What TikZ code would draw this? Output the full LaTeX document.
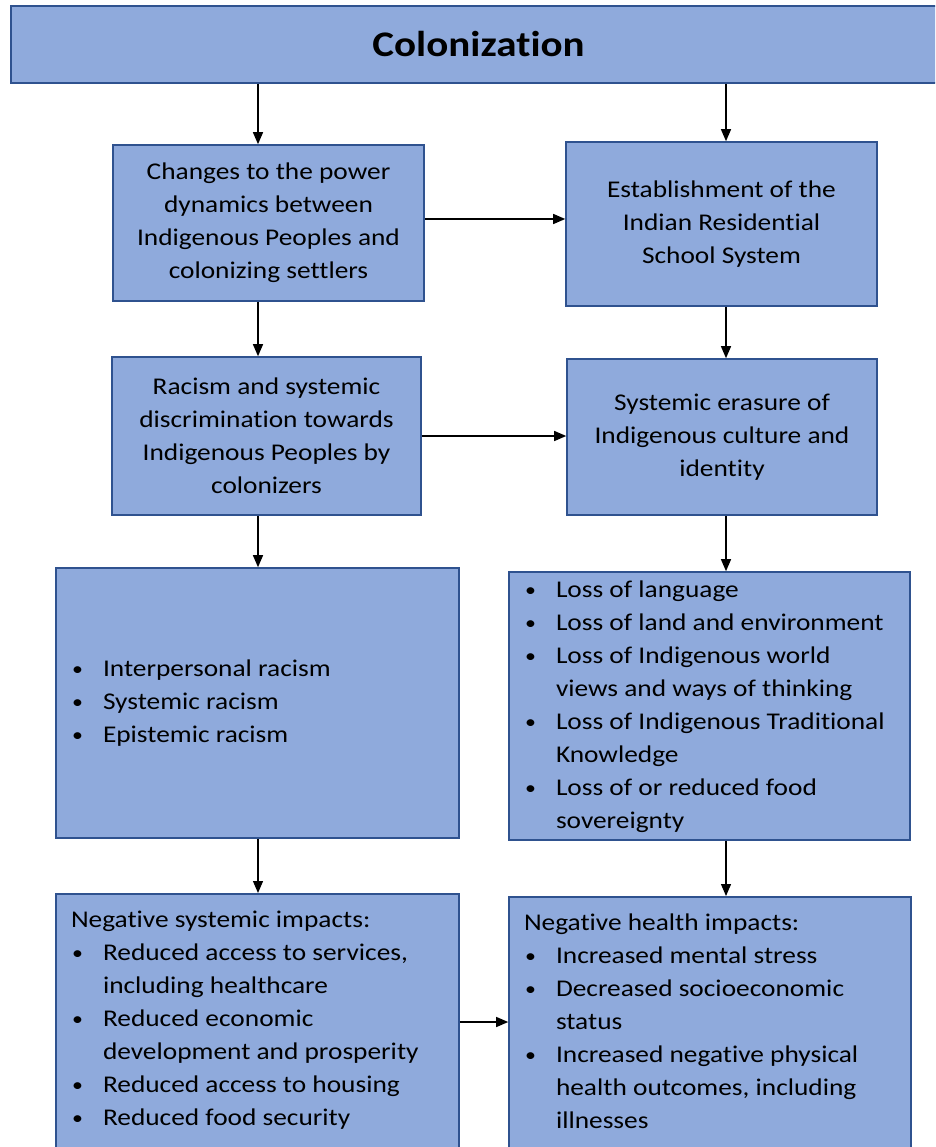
\documentclass[tikz,border=0pt]{standalone}
\usepackage{fontspec}
\setmainfont{Carlito}[FakeStretch=1.14,Ligatures=NoCommon]
\usetikzlibrary{arrows.meta}
\definecolor{boxfill}{HTML}{8FAADC}
\definecolor{boxline}{HTML}{2F528F}
\begin{document}
\begin{tikzpicture}[x=1pt,y=-1pt,
  box/.style={draw=boxline,line width=1.6pt,fill=boxfill,inner sep=0pt,
    align=center,font=\fontsize{24}{33}\selectfont},
  arr/.style={-{Triangle[length=12pt,width=10pt]},line width=1.3pt}]
   \newcommand{\bul}{\hspace*{1pt}\raisebox{1pt}{\scalebox{0.8}{\textbullet}}}
  \useasboundingbox (0,0) rectangle (935,1147);
  \clip (0,0) rectangle (935,1147);

  \coordinate (lcol) at (258,0);
  \coordinate (rcol) at (726,0);
  \coordinate (grow) at (0,1022);

  \node[box,minimum width=935pt,minimum height=77pt,font=\fontsize{36}{40}\bfseries]
    (title) at (478.5,44.5) {Colonization};

  \node[box,minimum width=311pt,minimum height=156pt] (power) at (268.5,223)
    {Changes to the power\\dynamics between\\Indigenous Peoples and\\colonizing settlers};
  \node[box,minimum width=311pt,minimum height=164pt] (school) at (721.5,224)
    {Establishment of the\\Indian Residential\\School System};
  \node[box,minimum width=309pt,minimum height=158pt] (racism) at (266.5,436)
    {Racism and systemic\\discrimination towards\\Indigenous Peoples by\\colonizers};
  \node[box,minimum width=310pt,minimum height=156pt] (erasure) at (722,437)
    {Systemic erasure of\\Indigenous culture and\\identity};

  \node[box,minimum width=403pt,minimum height=270pt] (kinds) at (257.5,703)
    {\begin{minipage}[c][270pt][c]{373pt}
     \begin{tabular}{@{}p{32pt}@{}l@{}}
       \bul & Interpersonal racism\\
       \bul & Systemic racism\\
       \bul & Epistemic racism
     \end{tabular}
     \end{minipage}};
  \node[box,minimum width=401pt,minimum height=268pt] (losses) at (709.5,706)
    {\begin{minipage}[c][268pt][c]{371pt}
     \begin{tabular}{@{}p{32pt}@{}l@{}}
       \bul & Loss of language\\
       \bul & Loss of land and environment\\
       \bul & Loss of Indigenous world\\
            & views and ways of thinking\\
       \bul & Loss of Indigenous Traditional\\
            & Knowledge\\
       \bul & Loss of or reduced food\\
            & sovereignty
     \end{tabular}
     \end{minipage}};

  \node[box,anchor=north,minimum width=403pt,minimum height=280pt] (sysimp) at (257.5,893)
    {\begin{minipage}[c][280pt][t]{373pt}
     \vspace*{11pt}
     \begin{tabular}{@{}p{32pt}@{}l@{}}
       \multicolumn{2}{@{}l@{}}{Negative systemic impacts:}\\
       \bul & Reduced access to services,\\
            & including healthcare\\
       \bul & Reduced economic\\
            & development and prosperity\\
       \bul & Reduced access to housing\\
       \bul & Reduced food security
     \end{tabular}
     \end{minipage}};
  \node[box,anchor=north,minimum width=402pt,minimum height=280pt] (health) at (710,896)
    {\begin{minipage}[c][280pt][t]{372pt}
     \vspace*{11pt}
     \begin{tabular}{@{}p{32pt}@{}l@{}}
       \multicolumn{2}{@{}l@{}}{Negative health impacts:}\\
       \bul & Increased mental stress\\
       \bul & Decreased socioeconomic\\
            & status\\
       \bul & Increased negative physical\\
            & health outcomes, including\\
            & illnesses
     \end{tabular}
     \end{minipage}};

  \draw[arr] (title.south -| lcol) -- (power.north -| lcol);
  \draw[arr] (title.south -| rcol) -- (school.north -| rcol);
  \draw[arr] (power.south -| lcol) -- (racism.north -| lcol);
  \draw[arr] (school.south -| rcol) -- (erasure.north -| rcol);
  \draw[arr] (racism.south -| lcol) -- (kinds.north -| lcol);
  \draw[arr] (erasure.south -| rcol) -- (losses.north -| rcol);
  \draw[arr] (kinds.south -| lcol) -- (sysimp.north -| lcol);
  \draw[arr] (losses.south -| rcol) -- (health.north -| rcol);
  \draw[arr] ([yshift=4pt]power.east) -- ([yshift=4pt]power.east -| school.west);
  \draw[arr] (racism.east) -- (racism.east -| erasure.west);
  \draw[arr] (sysimp.east |- grow) -- (health.west |- grow);
\end{tikzpicture}
\end{document}
